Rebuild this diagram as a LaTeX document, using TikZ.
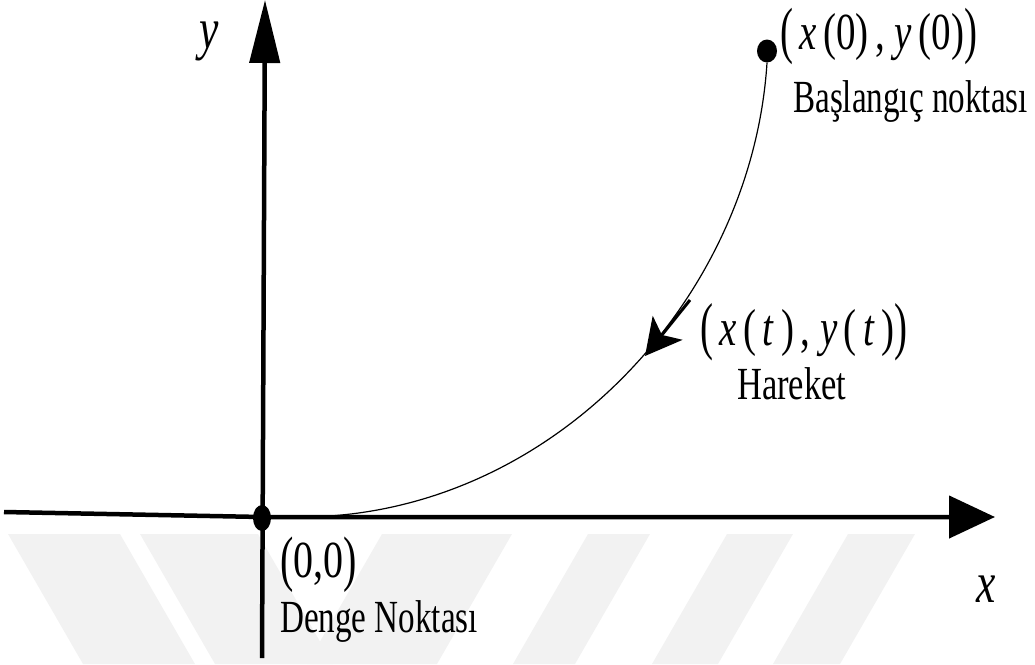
\documentclass[tikz,border=0pt]{standalone}
\usepackage{fontspec}
\setmainfont{Liberation Serif}
\usetikzlibrary{arrows.meta,shapes.geometric}
\newcommand\Lpar[2]{\raisebox{#2}{\scalebox{1}[#1]{(}}}
\newcommand\Rpar[2]{\raisebox{#2}{\scalebox{1}[#1]{)}}}
\tikzset{
  lbl/.style={anchor=base west, inner sep=0pt, font=\fontsize{46}{52}\selectfont},
  mlbl/.style={anchor=base west, inner sep=0pt, font=\fontsize{52}{58}\selectfont},
  axlbl/.style={anchor=base west, inner sep=0pt, font=\fontsize{58}{64}\selectfont\itshape},
  axisline/.style={line width=4.5pt},
  traj/.style={line width=1.2pt},
  blackdot/.style={ellipse, fill=black, inner sep=0pt},
  wm/.style={fill=black!5, draw=none},
}
\begin{document}
\begin{tikzpicture}[x=1pt,y=-1pt]
\useasboundingbox (0,0) rectangle (1035,664);
% watermark stripes
\fill[wm] (8,534) -- (120,534) -- (195,664) -- (83,664) -- cycle;
\fill[wm] (140,534) -- (258,534) -- (333,664) -- (215,664) -- cycle;
\fill[wm] (382,534) -- (512,534) -- (437,664) -- (307,664) -- cycle;
\fill[wm] (588,534) -- (650,534) -- (575,664) -- (513,664) -- cycle;
\fill[wm] (727,534) -- (793,534) -- (718,664) -- (652,664) -- cycle;
\fill[wm] (848,534) -- (915,534) -- (840,664) -- (773,664) -- cycle;
% coordinates
\coordinate (XL) at (4,512);
\coordinate (O) at (262,517);
\coordinate (XR) at (995,517);
\coordinate (YB) at (262,658);
\coordinate (YT) at (265,0);
\coordinate (C0) at (300,517);
\coordinate (A1) at (690,300);
\coordinate (A2) at (645,356);
% axes
\draw[axisline, -{Triangle[length=46pt,width=42pt]}] (XL) -- (O) -- (XR);
\draw[axisline, -{Triangle[length=63pt,width=30pt]}] (YB) -- (YT);
% dots
\node[blackdot, minimum width=18pt, minimum height=26pt] (origin) at (262,518) {};
\node[blackdot, minimum width=20pt, minimum height=23pt] (start) at (767,51) {};
% trajectory
\draw[traj] (C0) .. controls (550,517) and (752,300) .. (start.south);
\draw[line width=3pt, -{Stealth[length=36pt,width=38pt,inset=9pt]}] (A1) -- (A2);
% labels
\node[axlbl] (ylbl) at (199,48) {\scalebox{0.75}[1]{y}};
\node[axlbl] (xlbl) at (976,602) {\scalebox{0.75}[1]{x}};
\node[mlbl] (p0) at (780,49) {\scalebox{0.75}[1]{\Lpar{1.2}{-0.05em}\,\textit{x}\,(0)\,, \textit{y}\,(0)\Rpar{1.2}{-0.05em}}};
\node[lbl] (startlbl) at (793,112) {\scalebox{0.72}[1]{Başlangıç noktası}};
\node[mlbl] (pt) at (700,345) {\scalebox{0.75}[1]{\Lpar{1.22}{-0.056em}\,\textit{x}\,(\,\textit{t}\,)\,, \textit{y}\,(\,\textit{t}\,)\Rpar{1.22}{-0.056em}}};
\node[lbl] (mvlbl) at (737,399) {\scalebox{0.75}[1]{Hareket}};
\node[mlbl] (pz) at (280,577) {\scalebox{0.77}[1]{\Lpar{1.18}{-0.046em}0,0\Rpar{1.18}{-0.046em}}};
\node[lbl] (eqlbl) at (280,632) {\scalebox{0.72}[1]{Denge Noktası}};
\end{tikzpicture}
\end{document}
